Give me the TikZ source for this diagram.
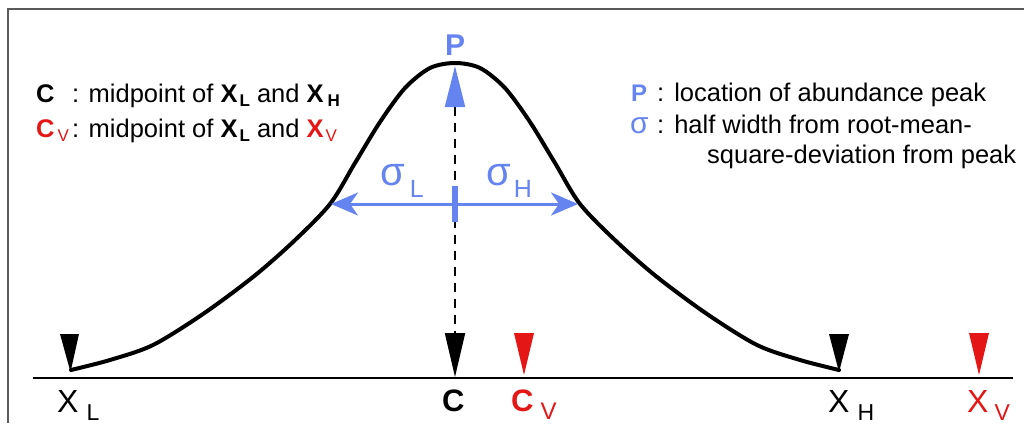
\documentclass[tikz,border=0pt]{standalone}
\usepackage{fontspec}
\usepackage{graphicx}
\setmainfont{Liberation Sans}
\usetikzlibrary{arrows.meta}
\definecolor{pblue}{RGB}{102,132,240}
\definecolor{mred}{RGB}{228,22,22}
\definecolor{framegray}{RGB}{90,90,90}
\newcommand\mysub[3]{\raisebox{-#1pt}{\fontsize{#2}{#2}\selectfont #3}}
\tikzset{
  lbl/.style={inner sep=0pt, anchor=base west},
  legend/.style={lbl, font=\fontsize{25.5}{30}\selectfont},
  axislbl/.style={lbl, font=\fontsize{32}{36}\selectfont},
  marker/.style={fill=black},
  curve/.style={line width=4pt, line join=round, line cap=round},
}
\begin{document}
\begin{tikzpicture}[x=1pt,y=-1pt]
\useasboundingbox (0,0) rectangle (1024,423);
% frame (top and left edges)
\draw[framegray, line width=2pt] (8,423) -- (8,8.5) -- (1024,8.5);
% axis
\coordinate (axL) at (33,378);
\coordinate (axR) at (1013,378);
\draw[line width=2.5pt] (axL) -- (axR);
% bell curve
\draw[curve] plot[smooth, tension=0.5] coordinates {
 (71,370) (110,360) (153,345) (203,314) (253,277) (293,242) (330,204)
 (355,163) (380,122) (405,88) (430,68) (455,63) (480,68) (505,88) (530,122) (555,163)
 (580,204) (617,242) (657,277) (707,314) (757,345) (800,360) (839,370)};
% markers
\fill[marker] (60,334) -- (79,334) -- (70.5,372) -- cycle;
\fill[marker] (829,334) -- (849,334) -- (839,372) -- cycle;
\fill[mred] (514,333) -- (534,333) -- (524,375) -- cycle;
\fill[mred] (969,333) -- (989,333) -- (979,375) -- cycle;
% dashed line P -> C
\coordinate (ptop) at (455,66);
\coordinate (cbot) at (455,377);
\draw[line width=2pt, dash pattern=on 9pt off 7pt,
  {Triangle[width=20pt,length=41pt,color=pblue]}-{Triangle[width=20pt,length=44pt]}]
  (ptop) -- (cbot);
% sigma arrow
\coordinate (sL) at (331,204);
\coordinate (sH) at (578,204);
\draw[pblue, line width=3pt, {Stealth[length=27pt,width=23pt,inset=8pt]}-{Stealth[length=27pt,width=23pt,inset=8pt]}] (sL) -- (sH);
\coordinate (tk1) at (455,186);
\coordinate (tk2) at (455,222);
\draw[pblue, line width=6pt] (tk1) -- (tk2);
\node[lbl, pblue, font=\fontsize{40}{40}\selectfont] (sigL) at (380,185) {σ\kern5pt\mysub{12}{25}{L}};
\node[lbl, pblue, font=\fontsize{40}{40}\selectfont] (sigH) at (486,185) {σ\kern3pt\mysub{12}{25}{H}};
% P label
\node[inner sep=0pt, anchor=base, pblue, font=\bfseries\fontsize{30}{30}\selectfont] (P) at (455,55) {P};
% axis labels
\node[axislbl] (XL) at (57,412) {X\kern8pt\mysub{8}{23}{L}};
\node[lbl, font=\bfseries\fontsize{31}{32}\selectfont] (C) at (442,411) {C};
\node[lbl, mred, font=\bfseries\fontsize{31}{32}\selectfont] (CV) at (511,411) {C\kern7pt\mysub{8}{24}{\mdseries V}};
\node[axislbl] (XH) at (828,412) {X\kern8pt\mysub{8}{23}{H}};
\node[axislbl, mred] (XV) at (967,412) {X\kern6pt\mysub{8}{23}{V}};
% left legend
\node[legend, font=\bfseries\fontsize{25.5}{30}\selectfont] (l1c) at (36,102) {C};
\node[legend] (l1t) at (72,102) {: midpoint of \textbf{X\kern2pt\mysub{4}{17}{L}} and \textbf{X\kern4pt\mysub{4}{17}{H}}};
\node[legend, mred, font=\bfseries\fontsize{25.5}{30}\selectfont] (l2c) at (36,137) {C\kern3pt\mysub{4}{17}{\mdseries V}};
\node[legend] (l2t) at (72,137) {: midpoint of \textbf{X\kern2pt\mysub{4}{17}{L}} and \textcolor{mred}{\textbf{X\kern2pt\mysub{4}{17}{\mdseries V}}}};
% right legend
\node[legend, pblue, font=\bfseries\fontsize{24}{30}\selectfont] (lp) at (631,101) {P};
\node[legend] (lpt) at (657,101) {:\kern10pt location of abundance peak};
\node[legend, pblue, font=\fontsize{30}{30}\selectfont] (ls) at (630,133) {σ};
\node[legend] (lst) at (657,133) {:\kern10pt half width from root-mean-};
\node[legend] (lst2) at (707,163) {square-deviation from peak};
\end{tikzpicture}
\end{document}
